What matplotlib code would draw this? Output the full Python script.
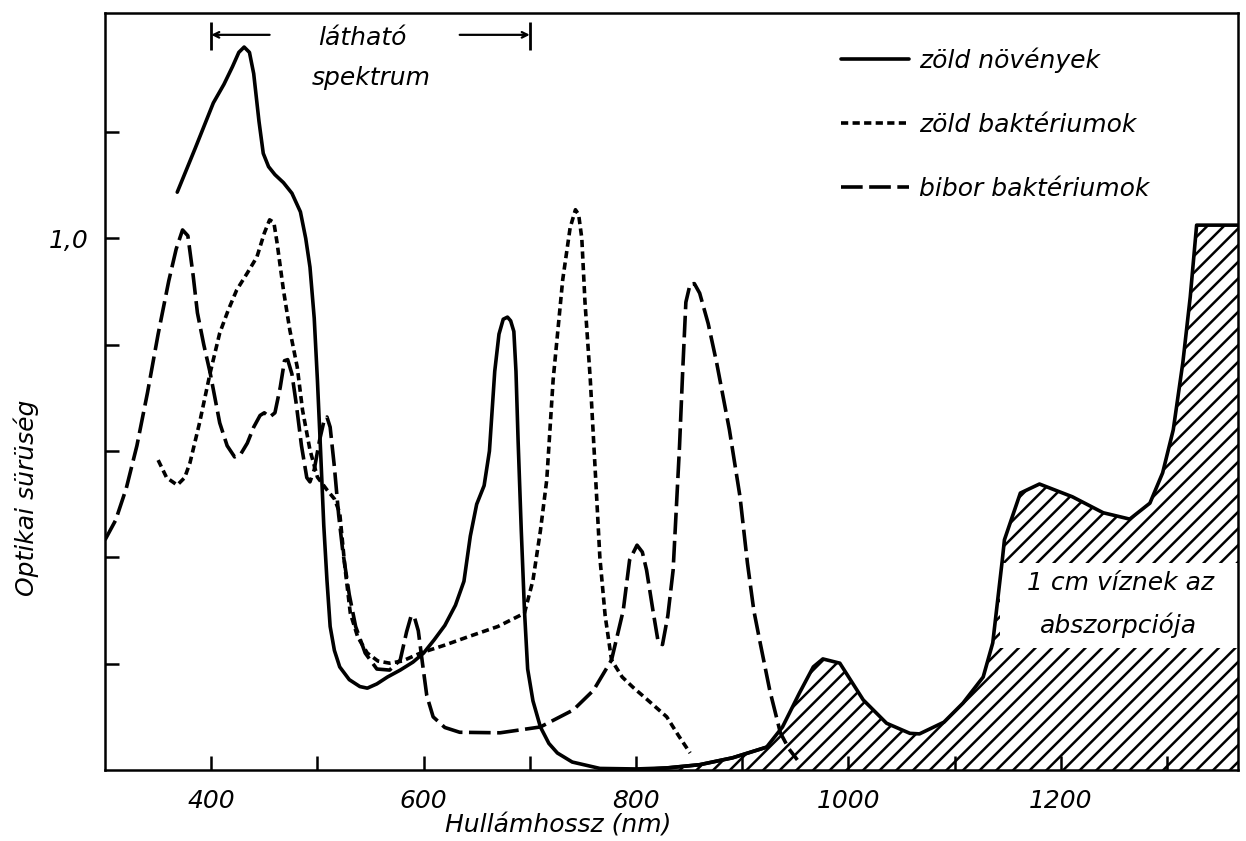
import matplotlib
matplotlib.use("Agg")
import matplotlib.pyplot as plt
from matplotlib.patches import Rectangle
from matplotlib.ticker import FixedLocator, FuncFormatter

# --- data (wavelength in nm, optical density) ---
plants_nm = [368, 385, 402, 412, 420, 426, 431, 436, 440, 445, 449, 454, 460,
             468, 476, 484, 489, 493, 497, 500, 503, 506, 509, 512, 516, 521,
             530, 540, 547, 556, 566, 578, 590, 600, 610, 620, 630, 638, 644,
             650, 657, 662, 667, 671, 675, 679, 682, 685, 687, 689, 692, 695,
             698, 703, 710, 718, 726, 740, 766, 800, 829, 860, 891, 923]
plants_od = [1.087, 1.17, 1.255, 1.29, 1.323, 1.35, 1.36, 1.35, 1.31, 1.22,
             1.16, 1.135, 1.12, 1.105, 1.085, 1.05, 1.00, 0.946, 0.85, 0.734,
             0.60, 0.46, 0.357, 0.27, 0.225, 0.194, 0.17, 0.157, 0.154, 0.162,
             0.175, 0.188, 0.203, 0.22, 0.245, 0.272, 0.31, 0.355, 0.44, 0.50,
             0.535, 0.60, 0.75, 0.82, 0.848, 0.852, 0.845, 0.825, 0.75, 0.62,
             0.45, 0.30, 0.19, 0.13, 0.081, 0.05, 0.032, 0.015, 0.003, 0.002,
             0.004, 0.01, 0.023, 0.043]

green_bact_nm = [350, 358, 368, 375, 380, 389, 399, 408, 416, 424, 434, 443,
                 450, 455, 459, 462, 468, 474, 481, 486, 493, 500, 509, 516,
                 521, 526, 531, 538, 547, 557, 568, 580, 597, 620, 641, 670,
                 695, 703, 710, 716, 722, 731, 738, 743, 746, 749, 752, 757,
                 762, 766, 771, 777, 787, 797, 812, 829, 840, 851]
green_bact_od = [0.583, 0.55, 0.536, 0.55, 0.578, 0.653, 0.747, 0.822, 0.865,
                 0.903, 0.935, 0.965, 1.01, 1.035, 1.03, 0.992, 0.903, 0.828,
                 0.758, 0.677, 0.602, 0.551, 0.527, 0.51, 0.484, 0.38, 0.295,
                 0.25, 0.22, 0.205, 0.201, 0.205, 0.22, 0.235, 0.25, 0.27,
                 0.295, 0.357, 0.45, 0.546, 0.734, 0.922, 1.02, 1.054, 1.045,
                 1.0, 0.88, 0.734, 0.55, 0.40, 0.29, 0.207, 0.175, 0.156, 0.13,
                 0.10, 0.065, 0.032]

purple_nm = [300, 310, 320, 330, 340, 350, 360, 367, 373, 378, 383, 387, 393,
             399, 408, 415, 422, 428, 434, 440, 446, 450, 455, 460, 465, 469,
             472, 476, 480, 485, 490, 493, 497, 502, 506, 509, 512, 516, 520,
             524, 530, 536, 545, 556, 568, 578, 584, 588, 591, 595, 599, 603,
             609, 620, 634, 672, 710, 741, 760, 777, 788, 794, 801, 806, 810,
             816, 821, 825, 830, 835, 841, 844, 847, 851, 855, 860, 868, 876,
             888, 898, 905, 911, 917, 926, 936, 944, 952]
purple_od = [0.433, 0.47, 0.53, 0.61, 0.71, 0.82, 0.92, 0.98, 1.016, 1.005,
             0.93, 0.86, 0.80, 0.747, 0.653, 0.61, 0.589, 0.595, 0.615, 0.645,
             0.667, 0.672, 0.664, 0.672, 0.72, 0.77, 0.772, 0.745, 0.69, 0.61,
             0.55, 0.542, 0.565, 0.62, 0.655, 0.664, 0.645, 0.57, 0.48, 0.41,
             0.33, 0.27, 0.22, 0.19, 0.188, 0.207, 0.26, 0.288, 0.29, 0.262,
             0.20, 0.14, 0.10, 0.08, 0.071, 0.070, 0.081, 0.113, 0.15, 0.207,
             0.30, 0.395, 0.423, 0.41, 0.376, 0.30, 0.24, 0.236, 0.29, 0.376,
             0.608, 0.75, 0.88, 0.914, 0.915, 0.897, 0.84, 0.766, 0.64, 0.514,
             0.389, 0.30, 0.239, 0.15, 0.07, 0.04, 0.019]

water_nm = [800, 830, 860, 891, 923, 938, 954, 967, 976, 992, 1014, 1036,
            1058, 1067, 1090, 1108, 1127, 1136, 1145, 1147, 1162, 1180, 1211,
            1240, 1265, 1284, 1296, 1306, 1315, 1322, 1328, 1367]
water_od = [0.0, 0.004, 0.01, 0.023, 0.043, 0.081, 0.145, 0.194, 0.209, 0.201,
            0.132, 0.088, 0.069, 0.068, 0.09, 0.126, 0.175, 0.239, 0.395, 0.433,
            0.521, 0.538, 0.514, 0.484, 0.472, 0.502, 0.559, 0.64, 0.766, 0.89,
            1.025, 1.025]

labels = ["zöld növények", "zöld baktériumok", "bibor baktériumok"]
visible_range = (400, 700)

plt.rcParams["hatch.linewidth"] = 1.8
font = dict(family="DejaVu Sans", style="italic", size=18)

fig = plt.figure(figsize=(12.46, 8.41), dpi=100)
ax = fig.add_axes([0.0843, 0.0844, 0.9093, 0.9001])

lw = 2.6
short_dash = (0, (2.0, 1.2))
long_dash = (0, (6.0, 1.8))

# water absorption (hatched)
ax.fill_between(water_nm, 0, water_od, facecolor="white", edgecolor="black",
                hatch="//", linewidth=0, zorder=1)
ax.add_patch(Rectangle((1143, 0.23), 1367 - 1143, 0.159,
                       facecolor="white", edgecolor="none", zorder=2))
ax.plot(water_nm, water_od, color="black", lw=lw, zorder=3)
ax.text(1256, 0.352, "1 cm víznek az", ha="center", va="center", zorder=4, **font)
ax.text(1254, 0.273, "abszorpciója", ha="center", va="center", zorder=4, **font)

ax.plot(plants_nm, plants_od, color="black", lw=lw, solid_joinstyle="round",
        solid_capstyle="round", label=labels[0], zorder=5)
ax.plot(green_bact_nm, green_bact_od, color="black", lw=lw, linestyle=short_dash,
        label=labels[1], zorder=5)
ax.plot(purple_nm, purple_od, color="black", lw=lw, linestyle=long_dash,
        label=labels[2], zorder=5)

# visible spectrum marker
y_bar = 1.383
ax.vlines(visible_range, 1.355, 1.408, color="black", lw=2)
ax.annotate("", xy=(visible_range[0], y_bar), xytext=(455, y_bar),
            arrowprops=dict(arrowstyle="->", lw=1.6, color="black",
                            shrinkA=0, shrinkB=0))
ax.annotate("", xy=(visible_range[1], y_bar), xytext=(634, y_bar),
            arrowprops=dict(arrowstyle="->", lw=1.6, color="black",
                            shrinkA=0, shrinkB=0))
ax.text(542, 1.377, "látható", ha="center", va="center", **font)
ax.text(551, 1.302, "spektrum", ha="center", va="center", **font)

ax.set_xlim(300, 1367)
ax.set_ylim(0, 1.424)

ax.xaxis.set_major_locator(FixedLocator([400, 600, 800, 1000, 1200]))
ax.xaxis.set_minor_locator(FixedLocator([500, 700, 900, 1100, 1300]))
ax.yaxis.set_major_locator(FixedLocator([0.2, 0.4, 0.6, 0.8, 1.0, 1.2]))
ax.yaxis.set_major_formatter(FuncFormatter(lambda v, p: "1,0" if abs(v - 1.0) < 1e-6 else ""))
ax.tick_params(which="both", direction="in", length=10, width=1.8)
ax.tick_params(axis="x", pad=14)
ax.tick_params(axis="y", pad=12)
for lab in ax.get_xticklabels() + ax.get_yticklabels():
    lab.set_fontstyle("italic")
    lab.set_fontsize(18)
for sp in ax.spines.values():
    sp.set_linewidth(1.8)

ax.set_xlabel("Hullámhossz (nm)", **font)
ax.set_ylabel("Optikai sürüség", **font)
ax.xaxis.set_label_coords(0.40, -0.057)
ax.yaxis.set_label_coords(-0.058, 0.36)

ax.legend(loc="upper left", bbox_to_anchor=(0.650, 0.955), frameon=False,
          prop=dict(family="DejaVu Sans", style="italic", size=18),
          handlelength=2.7, handletextpad=0.42, labelspacing=1.6,
          borderpad=0, borderaxespad=0)

fig.savefig("out.png", dpi=100)
